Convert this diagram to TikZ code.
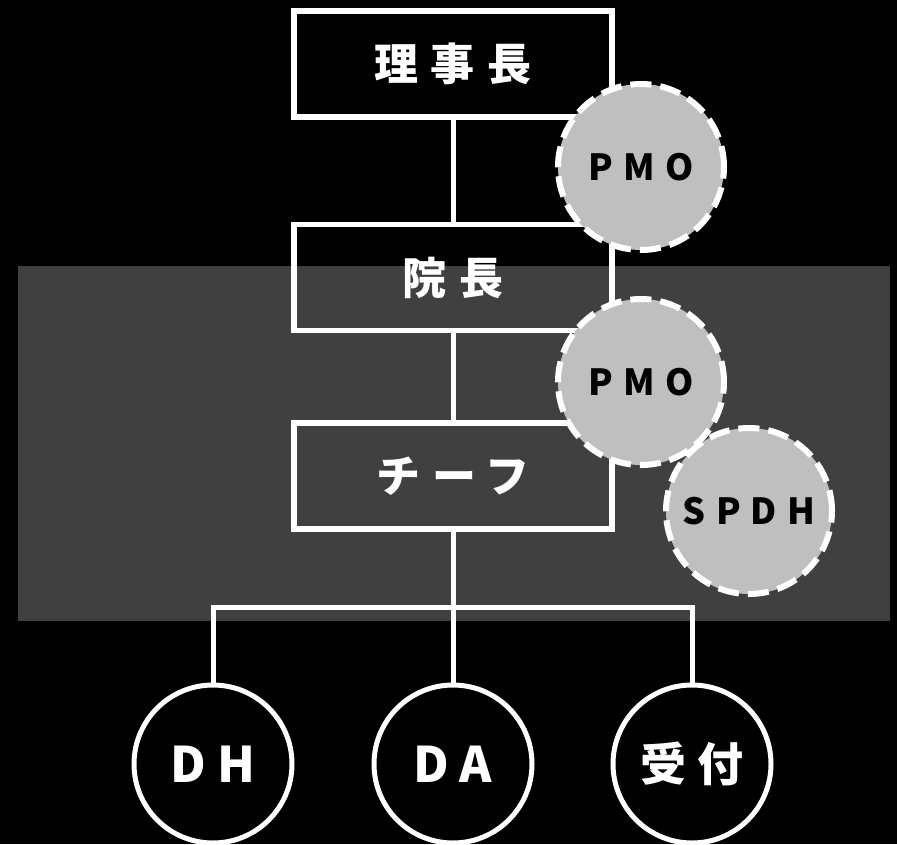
\documentclass[tikz,border=0pt]{standalone}
\usepackage{fontspec}
\setmainfont{Noto Sans CJK JP}
\newfontfamily\jpfont[LetterSpace=28]{Noto Sans CJK JP}
\newfontfamily\jpwide[LetterSpace=22]{Noto Sans CJK JP}
\newfontfamily\latfont[LetterSpace=22]{Noto Sans CJK JP}
\newfontfamily\latsmall[LetterSpace=28]{Noto Sans CJK JP}
\definecolor{bandgray}{HTML}{404040}
\definecolor{circgray}{HTML}{BFBFBF}
\tikzset{
  rolebox/.style={draw=white, line width=5.5pt, minimum width=318pt, minimum height=106pt, inner sep=0pt,
    text=white, font=\jpfont\bfseries\fontsize{44}{50}\selectfont},
  memb/.style={circle, draw=white, line width=5pt, minimum size=158pt, inner sep=0pt,
    text=white, font=\latfont\bfseries\fontsize{49}{55}\selectfont},
  membjp/.style={memb, font=\jpwide\bfseries\fontsize{46}{52}\selectfont},
  pmo/.style={circle, draw=white, fill=circgray, line width=6pt, dash pattern=on 21pt off 9pt,
    minimum size=166pt, inner sep=0pt, text=black, font=\latsmall\bfseries\fontsize{36}{42}\selectfont},
  link/.style={draw=white, line width=5pt}
}
\begin{document}
\begin{tikzpicture}[x=1pt,y=-1pt]
\fill[black] (0,0) rectangle (897,844);
\useasboundingbox (0,0) rectangle (897,844);
\fill[bandgray] (18,266) rectangle (890,621);
\node[rolebox] (b1) at (453,64) {理事長};
\node[rolebox] (b2) at (453,277.5) {院長};
\node[rolebox] (b3) at (453,476) {チーフ};
\node[memb] (c1) at (213,764) {DH};
\node[memb] (c2) at (453,764) {DA};
\node[membjp] (c3) at (692,764) {受付};
\coordinate (j) at (453,607);
\draw[link] (b1) -- (b2);
\draw[link] (b2) -- (b3);
\draw[link] (b3) -- (j);
\draw[link] (j) -- (c2);
\draw[link] (c1.north) |- (j);
\draw[link] (c3.north) |- (j);
\node[pmo] (p1) at (641,167) {PMO};
\node[pmo] (p2) at (641,382) {PMO};
\node[pmo] (s1) at (749,511) {SPDH};
\end{tikzpicture}
\end{document}
